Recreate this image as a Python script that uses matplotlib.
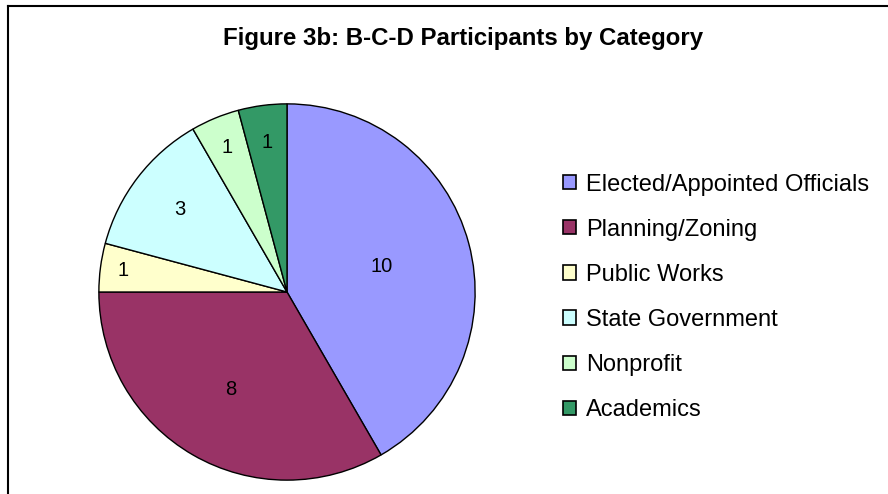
import matplotlib
matplotlib.use("Agg")
import matplotlib.pyplot as plt
from matplotlib.patches import Patch
import numpy as np

plt.rcParams['font.family'] = ['Liberation Sans', 'DejaVu Sans']

categories = ["Elected/Appointed Officials", "Planning/Zoning", "Public Works",
              "State Government", "Nonprofit", "Academics"]
values = [10, 8, 1, 3, 1, 1]
colors = ["#9999FF", "#993366", "#FFFFCC", "#CCFFFF", "#CCFFCC", "#339966"]
label_dist = [0.52, 0.6, 0.88, 0.72, 0.83, 0.8]
title = "Figure 3b: B-C-D Participants by Category"

W, H = 888, 494
fig = plt.figure(figsize=(W / 100, H / 100), dpi=100)

cx, cy, r = 287, 292, 190
ax = fig.add_axes([(cx - r) / W, (H - cy - r) / H, 2 * r / W, 2 * r / H])
wedges, _ = ax.pie(values, colors=colors, startangle=90, counterclock=False,
                   radius=1.0, wedgeprops=dict(edgecolor="black", linewidth=1.0))
ax.set_xlim(-1.01, 1.01)
ax.set_ylim(-1.01, 1.01)
ax.set_aspect("equal")
ax.axis("off")

for w, v, d in zip(wedges, values, label_dist):
    ang = np.deg2rad((w.theta1 + w.theta2) / 2)
    ax.text(d * np.cos(ang), d * np.sin(ang), str(v), ha="center", va="center",
            fontsize=14.5, color="black")

fig.text(463 / W, 1 - 45 / H, title, ha="center", va="baseline", fontsize=17.3,
         fontweight="bold")

handles = [Patch(facecolor=c, edgecolor="black", linewidth=1.2) for c in colors]
fig.legend(handles, categories, loc="upper left",
           bbox_to_anchor=(563 / W, 1 - 173.5 / H), frameon=False, fontsize=17,
           handlelength=0.55, handleheight=0.55, handletextpad=0.42,
           labelspacing=0.98, borderpad=0, borderaxespad=0)

# frame lines (top and left only visible)
fig.add_artist(plt.Line2D([8 / W, 1], [1 - 6.5 / H, 1 - 6.5 / H], color="black",
                          linewidth=1.5, transform=fig.transFigure))
fig.add_artist(plt.Line2D([8 / W, 8 / W], [0, 1 - 6.5 / H], color="black",
                          linewidth=1.5, transform=fig.transFigure))

fig.savefig("out.png", dpi=100)
